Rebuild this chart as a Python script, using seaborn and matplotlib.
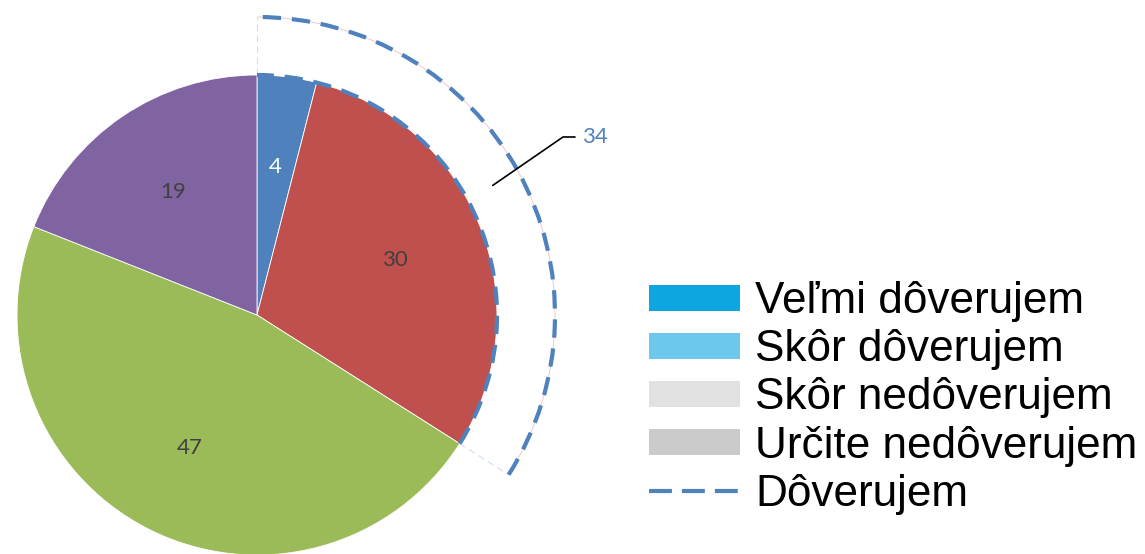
import numpy as np
import matplotlib
matplotlib.use("Agg")
import matplotlib.pyplot as plt
import seaborn as sns
from matplotlib.patches import Arc, Patch
from matplotlib.lines import Line2D

sns.set_theme(style="white")
plt.rcParams["font.family"] = ["Liberation Sans", "DejaVu Sans"]
plt.rcParams["text.color"] = "black"

# Slice values (percent), clockwise from 12 o'clock
slice_values = [4, 30, 47, 19]
slice_colors = ["#4F81BD", "#C0504D", "#9BBB59", "#8064A2"]
slice_label_colors = ["white", "#404040", "#404040", "#404040"]

# Combined "trust" share drawn as an outer dashed ring over the first two slices
trust_total = 34

legend_labels = ["Veľmi dôverujem", "Skôr dôverujem", "Skôr nedôverujem",
                 "Určite nedôverujem", "Dôverujem"]
legend_colors = ["#0EA6E0", "#6CC8EC", "#E1E1E1", "#CBCBCB"]
ring_color = "#4F81BD"

W, H = 1145, 554
fig = plt.figure(figsize=(W / 100, H / 100), dpi=100)
ax = fig.add_axes([0, 0, 1, 1])

cx, cy = 257, 239
R = 240
R_out = 298

wedges, texts = ax.pie(
    slice_values, colors=slice_colors, startangle=90, counterclock=False,
    radius=R, center=(cx, cy), labels=[str(v) for v in slice_values],
    labeldistance=0.62, wedgeprops=dict(linewidth=0.6, edgecolor="white"),
    frame=True,
)
ax.set_xlim(0, W)
ax.set_ylim(0, H)
ax.set_aspect("equal")
ax.axis("off")
for t, c in zip(texts, slice_label_colors):
    t.set_color(c)
    t.set_fontfamily(["Lato", "DejaVu Sans"])
    t.set_fontsize(16)
    t.set_ha("center")
    t.set_va("center")

# Angular span of the combined share
total = sum(slice_values)
span_end = 90 - 360 * trust_total / total
theta1, theta2 = span_end, 90

dash = (4.4, 2.6)
inner = Arc((cx, cy), 2 * R, 2 * R, theta1=theta1, theta2=theta2,
            color=ring_color, lw=3, linestyle=(0, dash), zorder=5)
outer = Arc((cx, cy), 2 * R_out, 2 * R_out, theta1=theta1, theta2=theta2,
            color=ring_color, lw=3, linestyle=(0, dash), zorder=5)
faint = Arc((cx, cy), 2 * R_out, 2 * R_out, theta1=theta1, theta2=theta2,
            color="#EBC0C0", lw=0.6, zorder=4)
ax.add_patch(faint)
ax.add_patch(inner)
ax.add_patch(outer)
for ang in (theta1, theta2):
    a = np.deg2rad(ang)
    ax.plot([cx + R * np.cos(a), cx + R_out * np.cos(a)],
            [cy + R * np.sin(a), cy + R_out * np.sin(a)],
            color="#D0DDEE", lw=0.8, linestyle=(0, (6, 4)), zorder=4)

# Leader line and value for the combined share
mid = np.deg2rad((theta1 + theta2) / 2)
r_mid = (R + R_out) / 2
x0, y0 = cx + r_mid * np.cos(mid), cy + r_mid * np.sin(mid)
x1, y1 = 563, H - 137
ax.plot([x0, x1, x1 + 12], [y0, y1, y1], color="black", lw=1.2, zorder=6)
ax.text(x1 + 19, y1, str(trust_total), color=ring_color, fontsize=16,
        fontfamily=["Lato", "DejaVu Sans"], ha="left", va="center")

handles = [Patch(facecolor=c, edgecolor="none") for c in legend_colors]
handles.append(Line2D([0], [0], color=ring_color, lw=3, linestyle=(0, (5.5, 2.4))))
leg = ax.legend(handles, legend_labels, loc="center left",
                bbox_to_anchor=(649, H - 398), bbox_transform=ax.transData,
                frameon=False, fontsize=31.8, handlelength=2.05, handleheight=0.54,
                handletextpad=0.36, labelspacing=0.16, borderpad=0, borderaxespad=0)
for t in leg.get_texts():
    t.set_color("black")

fig.savefig("out.png", dpi=100, facecolor="white")
